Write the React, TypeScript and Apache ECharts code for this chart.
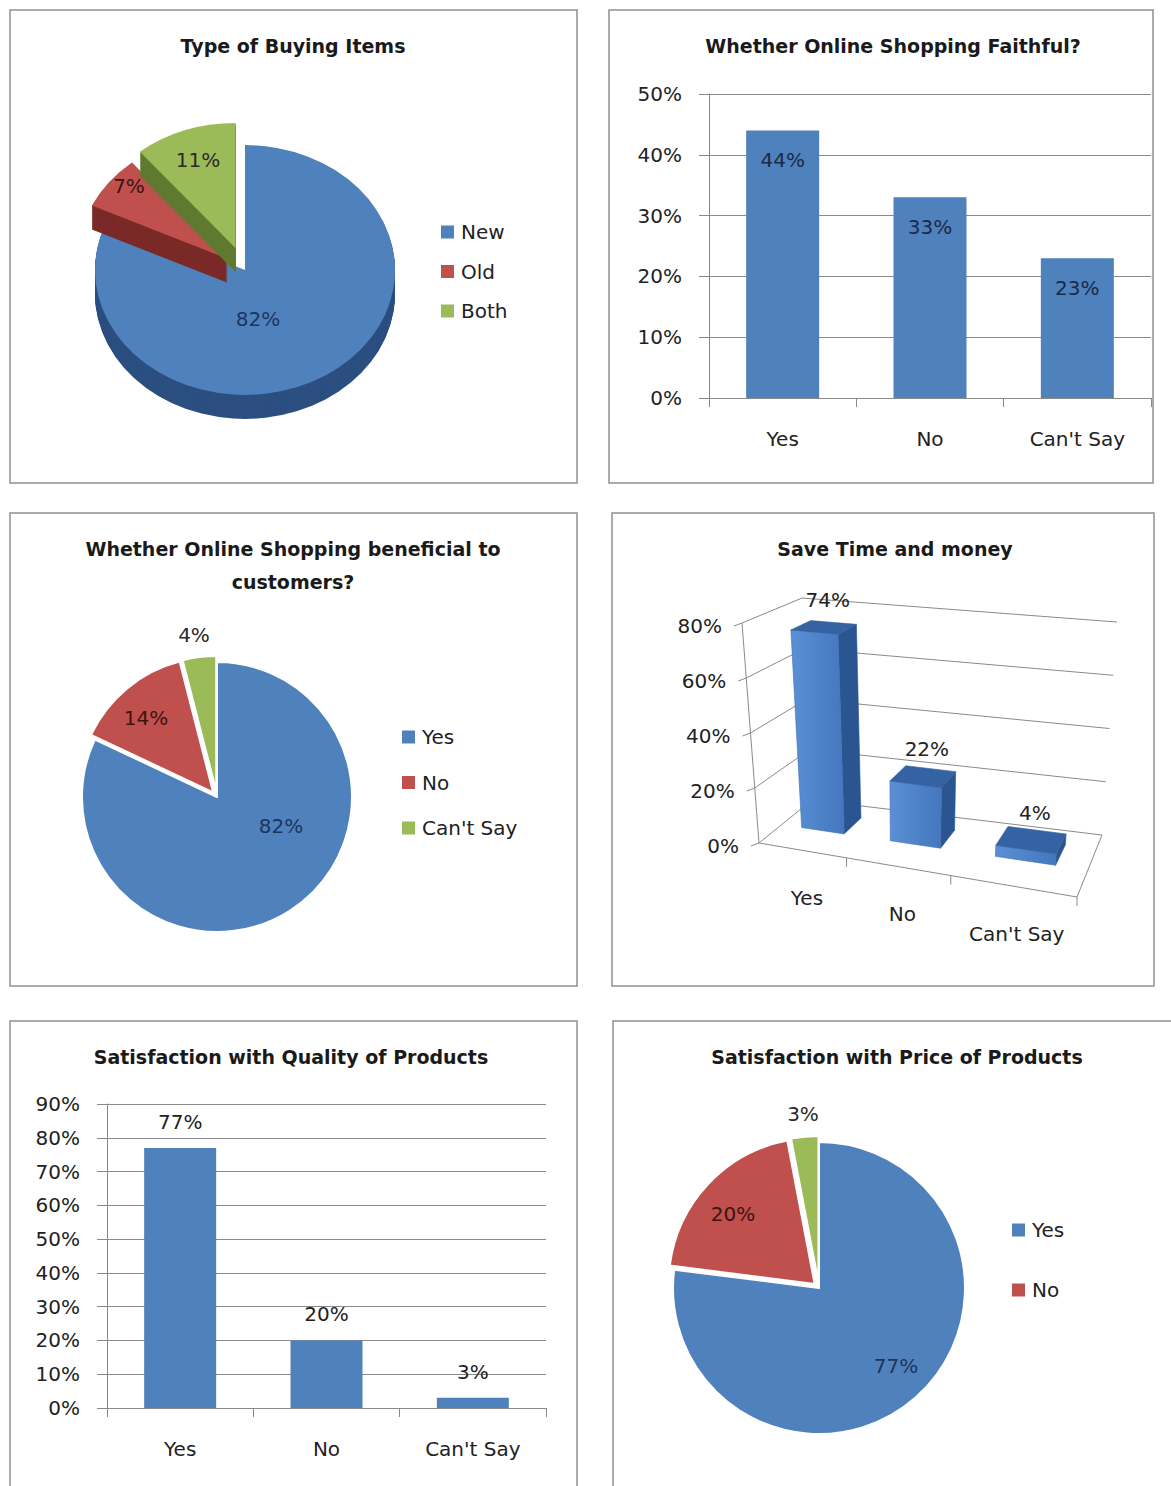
import React, { useEffect, useRef } from "react";
import * as echarts from "echarts";

// ---------- data ----------
const buyingTypes = ["New", "Old", "Both"];
const buyingShares = [82, 7, 11];

const answers = ["Yes", "No", "Can't Say"];
const faithfulShares = [44, 33, 23];
const beneficialShares = [82, 14, 4];
const saveTimeShares = [74, 22, 4];
const qualityShares = [77, 20, 3];
const priceShares = [77, 20, 3];
const priceLegendItems = ["Yes", "No"];

const saveTimeTicks = [0, 20, 40, 60, 80];

// ---------- styles ----------
const FONT = "'DejaVu Sans', Verdana, sans-serif";
const BLUE = "#4F81BD";
const RED = "#C0504D";
const GREEN = "#9BBB59";
const sliceColors = [BLUE, RED, GREEN];
const sliceSideColors = ["#2c4f80", "#7a2a28", "#5f7a2f"];
const sliceLabelColors = ["#1c355e", "#3c1412", "#2a2a2a"];
const GRID_LINE = "#8a8a8a";
const TEXT = "#222222";

// 3-D pie geometry (screen pixels)
const PIE3D = { cx: 245, cy: 270, r: 150, tilt: 0.833, depth: 24 };
const pie3dExplode = [0, 22, 28];
const pie3dLabelAt = [
  [13, 49],
  [-116, -84],
  [-47, -110],
];

// flat pie label placements, relative to each pie centre
const beneficialCenter = [217, 797];
const beneficialLabelAt = [
  [64, 29],
  [-71, -79],
  [-23, -162],
];
const priceCenter = [819, 1288];
const priceLabelAt = [
  [77, 78],
  [-86, -74],
  [-16, -174],
];

const sum = (arr: number[]) => arr.reduce((s, v) => s + v, 0);

function txt(text: string, x: number, y: number, align: string, opts: any = {}) {
  return {
    type: "text",
    x,
    y,
    silent: true,
    style: {
      text,
      fill: opts.fill || TEXT,
      fontSize: opts.fontSize || 20,
      fontFamily: FONT,
      fontWeight: opts.fontWeight || "normal",
      align,
      textAlign: align,
      verticalAlign: opts.verticalAlign || "middle",
      textVerticalAlign: opts.verticalAlign || "middle",
      lineHeight: opts.lineHeight,
    },
  };
}

function seg(p: number[], q: number[]) {
  return {
    type: "line",
    silent: true,
    shape: { x1: p[0], y1: p[1], x2: q[0], y2: q[1] },
    style: { stroke: GRID_LINE, lineWidth: 1 },
  };
}

// Perspective frame of the 3-D column chart, anchored on its grid rectangle.
// u: along the category axis (0..1), w: depth (0 front .. 1 back), t: height / axis max.
function columnProjector(cs: any) {
  const x0 = cs.x;
  const yb = cs.y + cs.height;
  const W = cs.width;
  const H = cs.height;
  const A = [x0, yb];
  const B = [x0 + W, yb + 54];
  const C = [x0 + W + 25, yb - 8];
  const D = [x0 + 53, yb - 43];
  const upA = [-17, -H];
  const upB = [17, -H * 1.055];
  const upC = [15, -H * 0.968];
  const upD = [-10, -H * 0.918];
  const dx1 = B[0] - C[0], dx2 = D[0] - C[0], dx3 = A[0] - B[0] + C[0] - D[0];
  const dy1 = B[1] - C[1], dy2 = D[1] - C[1], dy3 = A[1] - B[1] + C[1] - D[1];
  const den = dx1 * dy2 - dx2 * dy1;
  const g = (dx3 * dy2 - dx2 * dy3) / den;
  const h = (dx1 * dy3 - dx3 * dy1) / den;
  const a = B[0] - A[0] + g * B[0];
  const b = D[0] - A[0] + h * D[0];
  const d = B[1] - A[1] + g * B[1];
  const e = D[1] - A[1] + h * D[1];
  return (u: number, w: number, t: number): number[] => {
    const q = g * u + h * w + 1;
    const fx = (a * u + b * w + A[0]) / q;
    const fy = (d * u + e * w + A[1]) / q;
    const k0 = (1 - u) * (1 - w), k1 = u * (1 - w), k2 = u * w, k3 = (1 - u) * w;
    const ux = k0 * upA[0] + k1 * upB[0] + k2 * upC[0] + k3 * upD[0];
    const uy = k0 * upA[1] + k1 * upB[1] + k2 * upC[1] + k3 * upD[1];
    return [fx + t * ux, fy + t * uy];
  };
}

function pie3dSeries(i: number) {
  return {
    type: "custom",
    name: buyingTypes[i],
    coordinateSystem: "none",
    silent: true,
    itemStyle: { color: sliceColors[i] },
    data: [[buyingShares[i]]],
    renderItem: (_params: any, api: any) => {
      const total = sum(buyingShares);
      const before = sum(buyingShares.slice(0, i));
      const v = api.value(0);
      const a0 = -Math.PI / 2 + (2 * Math.PI * before) / total;
      const a1 = a0 + (2 * Math.PI * v) / total;
      const mid = (a0 + a1) / 2;
      const ox = Math.cos(mid) * pie3dExplode[i];
      const oy = Math.sin(mid) * pie3dExplode[i];
      const layers: any[] = [];
      for (let dpx = PIE3D.depth; dpx >= 1; dpx -= 1) {
        layers.push({
          type: "sector",
          shape: { cx: ox, cy: oy + dpx / PIE3D.tilt, r: PIE3D.r, r0: 0, startAngle: a0, endAngle: a1, clockwise: true },
          style: { fill: sliceSideColors[i] },
        });
      }
      layers.push({
        type: "sector",
        shape: { cx: ox, cy: oy, r: PIE3D.r, r0: 0, startAngle: a0, endAngle: a1, clockwise: true },
        style: { fill: sliceColors[i] },
      });
      return {
        type: "group",
        children: [
          { type: "group", x: PIE3D.cx, y: PIE3D.cy, scaleY: PIE3D.tilt, children: layers },
          txt(`${v}%`, PIE3D.cx + pie3dLabelAt[i][0], PIE3D.cy + pie3dLabelAt[i][1], "center", {
            fill: sliceLabelColors[i],
          }),
        ],
      };
    },
  };
}

function flatPie(name: string, values: number[], center: number[], radius: number) {
  return {
    type: "pie",
    name,
    z: 2,
    center,
    radius,
    startAngle: 90,
    clockwise: true,
    selectedMode: "multiple",
    selectedOffset: 6,
    silent: true,
    itemStyle: { borderColor: "#ffffff", borderWidth: 2 },
    select: { itemStyle: { borderColor: "#ffffff", borderWidth: 2 } },
    label: { show: false },
    labelLine: { show: false },
    data: answers.map((n, i) => ({
      name: n,
      value: values[i],
      selected: i > 0,
      itemStyle: { color: sliceColors[i] },
    })),
  };
}

// percentage labels of a flat pie, one per slice, drawn above the slices
function flatPieLabels(name: string, values: number[], center: number[], labelAt: number[][]) {
  return {
    type: "custom",
    name,
    z: 10,
    coordinateSystem: "none",
    silent: true,
    data: values.map((v) => [v]),
    renderItem: (params: any, api: any) => {
      const i = params.dataIndex;
      return txt(`${api.value(0)}%`, center[0] + labelAt[i][0], center[1] + labelAt[i][1], "center", {
        fill: sliceLabelColors[i],
      });
    },
  };
}

function flatBarAxes(gridIndex: number, max: number) {
  const x = {
    gridIndex,
    type: "category",
    data: answers,
    axisLine: { show: true, lineStyle: { color: GRID_LINE, width: 1 } },
    axisTick: { show: true, length: 9, alignWithLabel: false, lineStyle: { color: GRID_LINE } },
    axisLabel: { margin: 31, fontSize: 20, fontFamily: FONT, color: TEXT },
    splitLine: { show: false },
  };
  const y = {
    gridIndex,
    type: "value",
    min: 0,
    max,
    interval: 10,
    axisLine: { show: true, lineStyle: { color: GRID_LINE, width: 1 } },
    axisTick: { show: true, length: 10, lineStyle: { color: GRID_LINE } },
    axisLabel: { formatter: "{value}%", margin: 27, fontSize: 20, fontFamily: FONT, color: TEXT },
    splitLine: { show: true, lineStyle: { color: GRID_LINE, width: 1 } },
  };
  return { x, y };
}

function buildOption() {
  const faithfulAxes = flatBarAxes(0, 50);
  const qualityAxes = flatBarAxes(2, 90);

  const frame = (x: number, y: number, w: number, h: number) => ({
    type: "rect",
    silent: true,
    z: -10,
    shape: { x, y, width: w, height: h },
    style: { fill: "none", stroke: "#909090", lineWidth: 1.5 },
  });
  const title = (text: string, x: number, y: number) =>
    txt(text, x, y, "center", { fontSize: 19, fontWeight: "bold", fill: "#1a1a1a" });

  const legendBase = {
    orient: "vertical",
    icon: "rect",
    padding: 0,
    itemWidth: 13,
    itemHeight: 13,
    selectedMode: false,
    itemStyle: { borderWidth: 0 },
    textStyle: { fontSize: 20, fontFamily: FONT, color: TEXT, lineHeight: 20, padding: [0, 0, 0, 2] },
  };

  return {
    animation: false,
    backgroundColor: "#ffffff",
    tooltip: { show: false },
    graphic: {
      elements: [
        frame(10, 10, 567, 473),
        frame(609, 10, 544, 473),
        frame(10, 513, 567, 473),
        frame(612, 513, 542, 473),
        frame(10, 1021, 567, 480),
        frame(613, 1021, 570, 480),
        title("Type of Buying Items", 293, 46),
        title("Whether Online Shopping Faithful?", 893, 46),
        txt("Whether Online Shopping beneficial to\ncustomers?", 293, 532, "center", {
          fontSize: 19,
          fontWeight: "bold",
          fill: "#1a1a1a",
          verticalAlign: "top",
          lineHeight: 33,
        }),
        title("Save Time and money", 895, 549),
        title("Satisfaction with Quality of Products", 291, 1057),
        title("Satisfaction with Price of Products", 897, 1057),
      ],
    },
    legend: [
      { ...legendBase, data: buyingTypes, left: 441, top: 222, itemGap: 19.5 },
      { ...legendBase, data: answers, left: 402, top: 727, itemGap: 25.5 },
      { ...legendBase, data: priceLegendItems, left: 1012, top: 1220, itemGap: 40 },
    ],
    grid: [
      { left: 709, top: 94, width: 442, height: 304, outerBoundsMode: "none", containLabel: false },
      { left: 759, top: 623, width: 318, height: 220, outerBoundsMode: "none", containLabel: false },
      { left: 107, top: 1104, width: 439, height: 304, outerBoundsMode: "none", containLabel: false },
    ],
    xAxis: [
      faithfulAxes.x,
      { gridIndex: 1, type: "category", data: answers, show: false },
      qualityAxes.x,
    ],
    yAxis: [
      faithfulAxes.y,
      { gridIndex: 1, type: "value", min: 0, max: 80, interval: 20, show: false },
      qualityAxes.y,
    ],
    series: [
      // Type of Buying Items (3-D pie)
      pie3dSeries(0),
      pie3dSeries(1),
      pie3dSeries(2),

      // Whether Online Shopping Faithful?
      {
        type: "bar",
        name: "faithful",
        xAxisIndex: 0,
        yAxisIndex: 0,
        barWidth: 73,
        silent: true,
        itemStyle: { color: BLUE },
        label: {
          show: true,
          position: "insideTop",
          distance: 20,
          formatter: "{c}%",
          fontSize: 20,
          fontFamily: FONT,
          color: "#1b2a48",
        },
        data: faithfulShares,
      },

      // Whether Online Shopping beneficial to customers?
      flatPie("beneficial", beneficialShares, beneficialCenter, 135),
      flatPieLabels("beneficialLabels", beneficialShares, beneficialCenter, beneficialLabelAt),

      // Save Time and money (3-D columns): walls and floor
      {
        type: "custom",
        name: "saveTimeWalls",
        xAxisIndex: 1,
        yAxisIndex: 1,
        clip: false,
        silent: true,
        data: saveTimeTicks.map((v) => [0, v]),
        renderItem: (params: any, api: any) => {
          const cs = params.coordSys;
          const P = columnProjector(cs);
          const v = api.value(1);
          const yb = cs.y + cs.height;
          const t = (yb - api.coord([0, v])[1]) / cs.height;
          const fl = P(0, 0, t);
          const bl = P(0, 1, t);
          const br = P(1, 1, t);
          const children: any[] = [
            seg(fl, bl),
            seg(bl, br),
            seg(fl, [fl[0] - 8, fl[1] + 3]),
            txt(`${v}%`, fl[0] - 20, fl[1] + 3, "right"),
          ];
          if (params.dataIndex === 0) {
            const tTop = (yb - api.coord([0, saveTimeTicks[saveTimeTicks.length - 1]])[1]) / cs.height;
            children.push(seg(P(0, 0, 0), P(0, 0, tTop)));
            children.push(seg(P(0, 0, 0), P(1, 0, 0)));
            children.push(seg(P(1, 0, 0), P(1, 1, 0)));
            const band = api.size([1, 0])[0];
            const firstEdge = api.coord([0, 0])[0] - band / 2;
            for (let k = 1; k <= answers.length; k++) {
              const u = (firstEdge + k * band - cs.x) / cs.width;
              const p = P(u, 0, 0);
              children.push(seg(p, [p[0], p[1] + 9]));
            }
          }
          return { type: "group", children };
        },
      },
      // Save Time and money (3-D columns): bars
      {
        type: "custom",
        name: "saveTime",
        xAxisIndex: 1,
        yAxisIndex: 1,
        clip: false,
        silent: true,
        data: saveTimeShares.map((v, i) => [i, v]),
        renderItem: (params: any, api: any) => {
          const cs = params.coordSys;
          const P = columnProjector(cs);
          const idx = api.value(0);
          const v = api.value(1);
          const base = api.coord([idx, 0]);
          const top = api.coord([idx, v]);
          const band = api.size([1, 0])[0] / cs.width;
          const uc = (base[0] - cs.x) / cs.width;
          const t = (base[1] - top[1]) / cs.height;
          const u0 = uc - band * 0.25;
          const u1 = uc + band * 0.25;
          const w0 = 0.4;
          const w1 = 0.75;
          const poly = (pts: number[][], fill: any) => ({
            type: "polygon",
            shape: { points: pts },
            style: { fill, stroke: typeof fill === "string" ? fill : "#3f6fb0", lineWidth: 0.6 },
          });
          const frontFill = {
            type: "linear",
            x: 0,
            y: 0,
            x2: 1,
            y2: 0,
            colorStops: [
              { offset: 0, color: "#5a90d6" },
              { offset: 1, color: "#4477bd" },
            ],
          };
          const front = poly([P(u0, w0, 0), P(u1, w0, 0), P(u1, w0, t), P(u0, w0, t)], frontFill);
          const side = poly([P(u1, w0, 0), P(u1, w1, 0), P(u1, w1, t), P(u1, w0, t)], "#2b5591");
          const cap = poly([P(u0, w0, t), P(u1, w0, t), P(u1, w1, t), P(u0, w1, t)], "#3462a3");
          const lab = P(uc, (w0 + w1) / 2, t);
          const cat = P(uc, 0, 0);
          return {
            type: "group",
            children: [
              side,
              front,
              cap,
              txt(`${v}%`, lab[0] + 4, lab[1] - 27, "center"),
              txt(answers[idx], cat[0] + 6, cat[1] + 48, "center"),
            ],
          };
        },
      },

      // Satisfaction with Quality of Products
      {
        type: "bar",
        name: "quality",
        xAxisIndex: 2,
        yAxisIndex: 2,
        barWidth: 72,
        silent: true,
        itemStyle: { color: BLUE },
        label: {
          show: true,
          position: "top",
          distance: 16,
          formatter: "{c}%",
          fontSize: 20,
          fontFamily: FONT,
          color: TEXT,
        },
        data: qualityShares,
      },

      // Satisfaction with Price of Products
      flatPie("price", priceShares, priceCenter, 146),
      flatPieLabels("priceLabels", priceShares, priceCenter, priceLabelAt),
    ],
  };
}

export default function App() {
  const ref = useRef<HTMLDivElement | null>(null);
  useEffect(() => {
    if (!ref.current) return;
    const chart = echarts.init(ref.current, undefined, { renderer: "svg" });
    chart.setOption(buildOption() as any);
    return () => chart.dispose();
  }, []);
  return (
    <div
      ref={ref}
      style={{ position: "absolute", left: 0, top: 0, width: 1171, height: 1486, background: "#ffffff" }}
    />
  );
}
